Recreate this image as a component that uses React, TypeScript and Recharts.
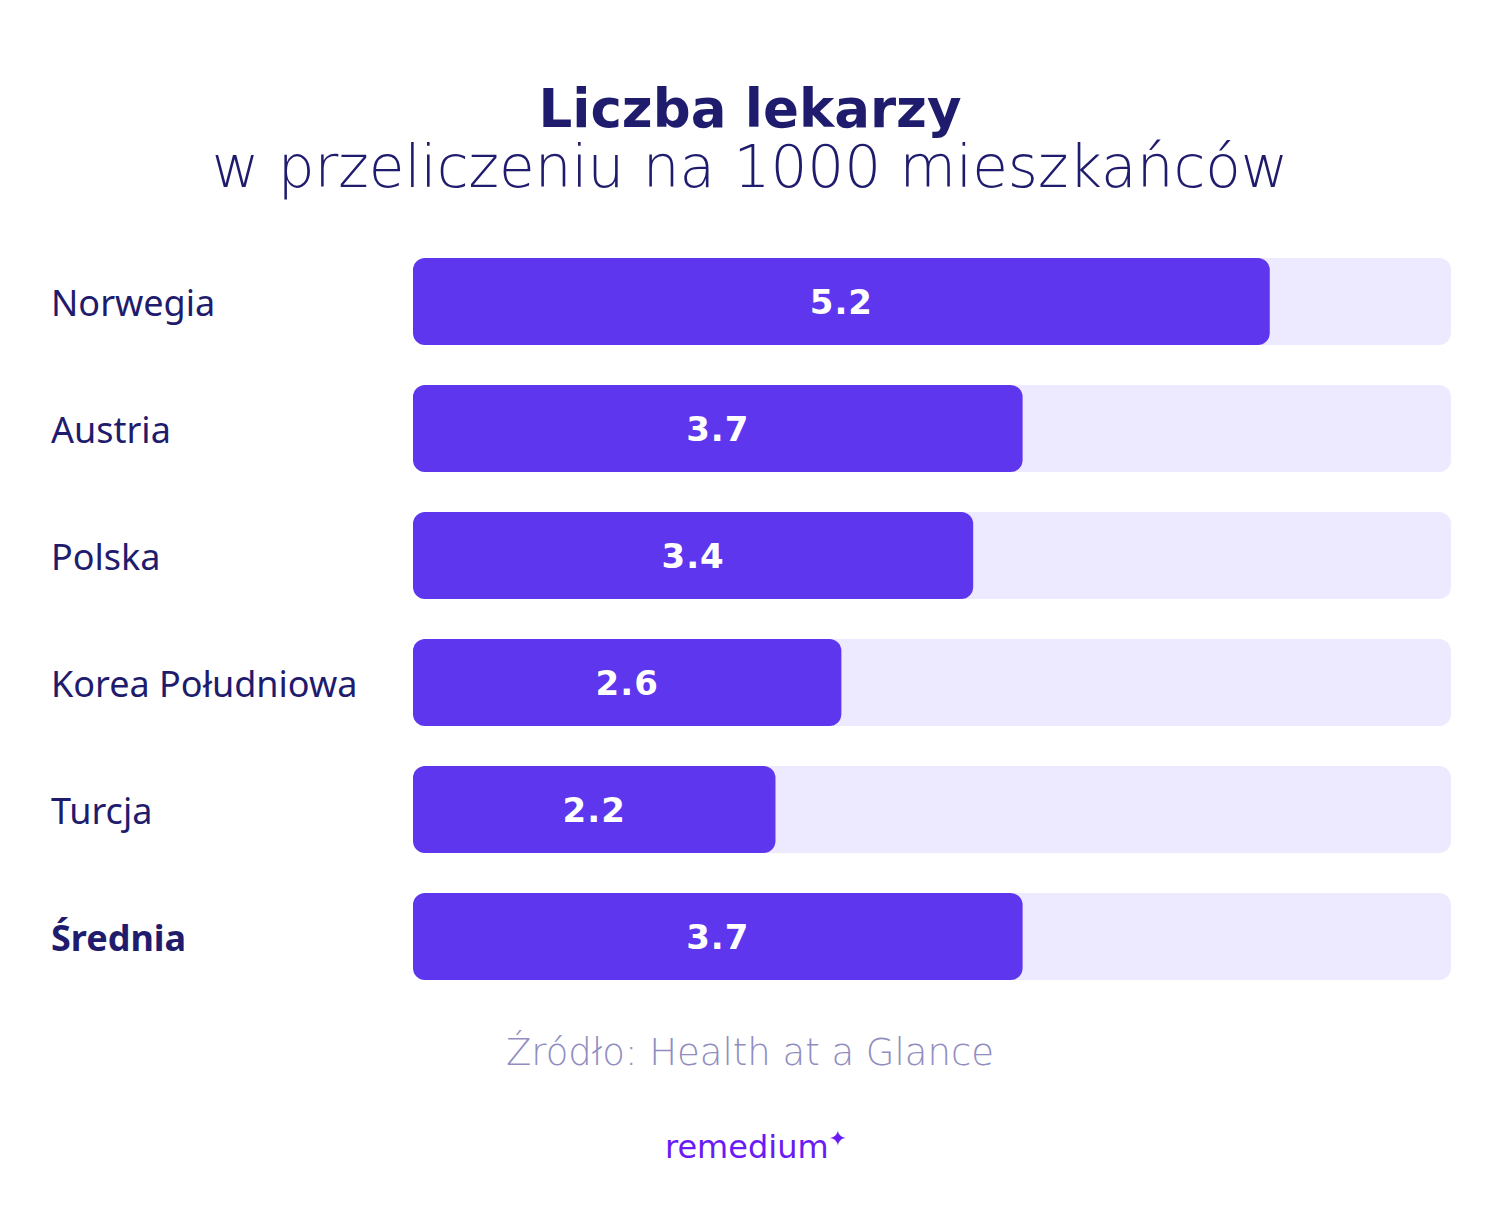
import React from "react";
import { BarChart, Bar, XAxis, YAxis, LabelList } from "recharts";

// dane z wykresu
const countries = ["Norwegia", "Austria", "Polska", "Korea Południowa", "Turcja", "Średnia"];
const doctors = [5.2, 3.7, 3.4, 2.6, 2.2, 3.7];

const data = countries.map((name, i) => ({ name, value: doctors[i] }));

const NAVY = "#1F1C6E";
const PURPLE = "#5E36EE";
const LIGHT = "#EDE9FE";

const CountryTick = (props: any) => {
  const { y, payload } = props;
  const bold = payload.value === "Średnia";
  return (
    <text
      x={51}
      y={y}
      dy={14}
      textAnchor="start"
      fill={NAVY}
      fontFamily="'Noto Sans', sans-serif"
      fontSize={36}
      fontWeight={bold ? 700 : 400}
    >
      {payload.value}
    </text>
  );
};

const ValueLabel = (props: any) => {
  const { x, y, width, height, value } = props;
  return (
    <text
      x={x + width / 2}
      y={y + height / 2}
      dy={12}
      textAnchor="middle"
      fill="#FFFFFF"
      fontFamily="'DejaVu Sans', sans-serif"
      fontWeight={700}
      fontSize={34}
      letterSpacing={1}
    >
      {value.toFixed(1)}
    </text>
  );
};

const App = () => {
  return (
    <div
      style={{
        position: "absolute",
        left: 0,
        top: 0,
        width: 1500,
        height: 1214,
        background: "#FFFFFF",
        overflow: "hidden",
      }}
    >
      {/* tytuł */}
      <div
        style={{
          position: "absolute",
          top: 79,
          width: 1500,
          textAlign: "center",
          color: NAVY,
          fontFamily: "'DejaVu Sans', sans-serif",
          fontWeight: 700,
          fontSize: 53,
          lineHeight: "60px",
        }}
      >
        Liczba lekarzy
      </div>
      <div
        style={{
          position: "absolute",
          top: 132,
          width: 1500,
          textAlign: "center",
          color: NAVY,
          fontFamily: "'DejaVu Sans', sans-serif",
          fontWeight: 200,
          fontSize: 58,
          lineHeight: "70px",
        }}
      >
        w przeliczeniu na 1000 mieszkańców
      </div>

      <div style={{ position: "absolute", left: 0, top: 0 }}>
        <BarChart
          width={1500}
          height={1214}
          data={data}
          layout="vertical"
          margin={{ top: 238, right: 49, bottom: 214, left: 0 }}
          barCategoryGap={20}
        >
          <XAxis type="number" domain={[0, 6.3]} hide />
          <YAxis
            type="category"
            dataKey="name"
            width={413}
            axisLine={false}
            tickLine={false}
            tick={<CountryTick />}
          />
          <Bar
            dataKey="value"
            fill={PURPLE}
            radius={12}
            background={{ fill: LIGHT, radius: 12 } as any}
            isAnimationActive={false}
          >
            <LabelList dataKey="value" content={<ValueLabel />} />
          </Bar>
        </BarChart>
      </div>

      {/* źródło */}
      <div
        style={{
          position: "absolute",
          top: 1030,
          width: 1500,
          textAlign: "center",
          color: "#918EBF",
          fontFamily: "'DejaVu Sans', sans-serif",
          fontWeight: 200,
          fontSize: 37,
          lineHeight: "46px",
        }}
      >
        Źródło: Health at a Glance
      </div>

      {/* logo */}
      <div
        style={{
          position: "absolute",
          top: 1128,
          left: 6,
          width: 1500,
          textAlign: "center",
          color: "#6A1BF5",
          fontFamily: "'DejaVu Sans', sans-serif",
          fontSize: 32,
          lineHeight: "38px",
        }}
      >
        remedium
        <span style={{ fontSize: 22, verticalAlign: "top", position: "relative", top: -8 }}>✦</span>
      </div>
    </div>
  );
};

export default App;
